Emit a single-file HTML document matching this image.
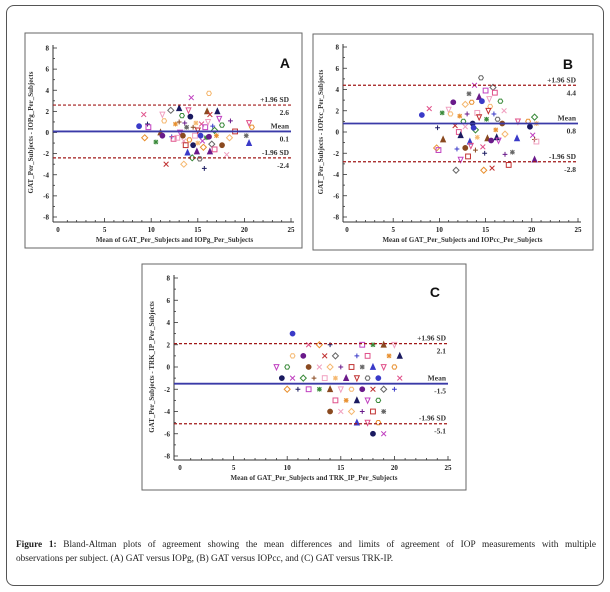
<!DOCTYPE html>
<html><head><meta charset="utf-8"><style>
body{margin:0;background:#fff;width:610px;height:592px;overflow:hidden;font-family:"Liberation Serif",serif}
#frame{position:absolute;left:6px;top:5px;width:598px;height:581px;border:1px solid #555;border-radius:8px;box-sizing:border-box}
#caption{position:absolute;left:16px;top:538px;width:580px;font-size:9.3px;line-height:14px;color:#222}
#caption .l1{display:block;text-align:justify;text-align-last:justify;white-space:nowrap}
svg{position:absolute;left:0;top:0}
</style></head><body>
<div id="frame"></div>
<svg id="fig" width="610" height="592"></svg>
<div id="caption"><span class="l1" style="white-space:normal"><b>Figure 1:</b> Bland-Altman plots of agreement showing the mean differences and limits of agreement of IOP measurements with multiple</span><span>observations per subject. (A) GAT versus IOPg, (B) GAT versus IOPcc, and (C) GAT versus TRK-IP.</span></div>
<script>
// Panel A data
const aX=[8.7,9.2,9.3,9.6,9.7,10.5,11.0,11.2,11.4,11.2,11.6,12.1,12.2,12.4,12.6,13.0,13.1,13.3,13.4,13.5,13.5,13.6,13.7,13.8,13.9,14.0,14.1,14.2,14.3,14.4,14.5,14.7,14.8,14.9,15.0,15.2,15.3,15.4,15.6,15.7,15.8,15.9,16.0,16.1,16.2,16.2,16.3,16.5,16.6,16.8,17.0,17.1,17.3,17.6,17.6,18.1,18.4,18.5,19.0,20.2,20.5,20.5,20.8,14.5,15.5,16.8,13.0,12.8,15.0,16.3];
const aY=[0.6,1.7,-0.5,0.8,0.5,-0.9,0,1.7,1.1,-0.3,-3,2.1,-0.4,-0.6,0.8,2.3,0,1.6,-0.3,-0.8,-3,0.9,-1.2,0.5,-1.9,2.1,-0.7,1.5,3.3,-2.4,0.5,-0.3,0.9,-1.8,0.2,-2.5,-0.3,0.8,-1.4,-3.4,0.5,-0.5,2.0,1.0,3.7,-0.4,1.7,-1.1,0.6,-1.6,-0.3,2.0,1.3,0.7,-1.2,-2.1,-0.5,1.1,0.1,-0.3,-1.0,0.9,0.5,-1.2,-0.8,0.2,1.0,-0.5,-1.0,-1.8];
const aStats=[0.1,2.6,-2.4];
// Panel B data
const bX=[8.1,8.9,9.7,9.8,9.9,10.3,10.4,11.0,11.2,11.5,11.7,11.8,11.9,12.1,12.2,12.3,12.3,12.6,12.8,12.8,12.8,13.0,13.1,13.2,13.3,13.4,13.5,13.6,13.8,13.9,13.9,14.1,14.1,14.3,14.3,14.5,14.6,14.7,14.8,14.9,15.0,15.1,15.2,15.4,15.5,15.6,15.7,15.8,15.9,16.0,16.1,16.2,16.4,16.6,16.8,17.0,17.1,17.1,17.5,17.9,18.4,18.5,19.6,19.8,20.1,20.3,20.3,20.5,20.5,20.3,15.3,16.3,13.7];
const bY=[1.6,2.2,-1.5,0.4,-1.7,1.8,-0.7,2.1,1.7,2.8,0.6,-3.6,-1.6,0,1.5,-0.3,-2.6,1.0,-1.5,0.5,2.6,1.7,-2.3,3.6,-0.9,-1.3,2.8,0.8,4.4,0.2,-1.7,1.8,-0.5,3.3,1.4,5.1,2.9,-1.4,-3.6,-2.0,3.9,1.2,-0.6,3.1,2.4,-0.8,-3.4,4.2,1.7,3.7,0.2,-0.5,-0.8,2.9,0.8,2.0,-0.2,-2.1,-3.1,-1.9,-0.6,1.0,1.0,0.5,-0.3,1.4,-0.7,-0.9,0.8,-2.6,2.0,1.2,0.4];
const bStats=[0.8,4.4,-2.8];
// Panel C data
const cX=[10.5,12,13,14,17,18,19,20,10.5,11.5,13.5,14.5,16.5,17.5,19.5,20.5,9,10,12,13,14,15,16,17,18,19,20,9.5,10.5,11.5,12.5,13.5,14.5,15.5,16.5,17.5,18.5,20.5,10,11,12,13,14,15,16,17,18,19,20,14.5,15.5,16.5,17.5,18.5,14,15,16,17,18,19,16.5,17.5,18.5,18,19];
const cY=[3,2,2,2,2,2,2,2,1,1,1,1,1,1,1,1,0,0,0,0,0,0,0,0,0,0,0,-1,-1,-1,-1,-1,-1,-1,-1,-1,-1,-1,-2,-2,-2,-2,-2,-2,-2,-2,-2,-2,-2,-3,-3,-3,-3,-3,-4,-4,-4,-4,-4,-4,-5,-5,-5,-6,-6];
const cStats=[-1.5,2.1,-5.1];

const xTicks=[0,5,10,15,20,25];
const yTicks=[8,6,4,2,0,-2,-4,-6,-8];
const colors=["#3a3ac8","#e0508a","#e89030","#1a1a60","#c040c0","#3a8a3a","#8a4a20","#f0a0c0","#f5b870","#6a1a8a","#c03030","#666"];
const shapes=["circle","diamond","square","tri","hex","x","plus","star","dtri"];
const NS="http://www.w3.org/2000/svg";
const svg=document.getElementById('fig');
function mk(tag,attrs,parent){const e=document.createElementNS(NS,tag);for(const k in attrs)e.setAttribute(k,attrs[k]);(parent||svg).appendChild(e);return e;}

const panels=[
 {id:'a',letter:'A',box:[25,33,277,215],x0:58,x1:291,y8:48,ym8:217,ax:53,axY:222,xs:aX,ys:aY,st:aStats,
  yt:"GAT_Per_Subjects - IOPg_Per_Subjects",xt:"Mean of GAT_Per_Subjects and IOPg_Per_Subjects",lx:290,ly:62},
 {id:'b',letter:'B',box:[313,34,280,216],x0:347,x1:578,y8:47,ym8:217,ax:343,axY:222,xs:bX,ys:bY,st:bStats,
  yt:"GAT_Per_Subjects - IOPcc_Per_Subjects",xt:"Mean of GAT_Per_Subjects and IOPcc_Per_Subjects",lx:573,ly:63},
 {id:'c',letter:'C',box:[142,264,324,226],x0:180,x1:448,y8:278,ym8:456,ax:174,axY:460,xs:cX,ys:cY,st:cStats,
  yt:"GAT_Per_Subjects - TRK_IP_Per_Subjects",xt:"Mean of GAT_Per_Subjects and TRK_IP_Per_Subjects",lx:440,ly:291}
];

function marker(g,cx,cy,i){
  const c=colors[i%colors.length], s=shapes[(i*5)%shapes.length], fill=(i%3===0)?c:'none', r=2.4;
  const at={stroke:c,'stroke-width':1,fill:fill};
  let e;
  if(s==='circle'){e=mk('circle',Object.assign({cx:cx,cy:cy,r:r},at),g);}
  else if(s==='square'){e=mk('rect',Object.assign({x:cx-r,y:cy-r,width:2*r,height:2*r},at),g);}
  else if(s==='diamond'){e=mk('polygon',Object.assign({points:`${cx},${cy-r-0.6} ${cx+r+0.6},${cy} ${cx},${cy+r+0.6} ${cx-r-0.6},${cy}`},at),g);}
  else if(s==='tri'){e=mk('polygon',Object.assign({points:`${cx},${cy-r-0.5} ${cx+r},${cy+r} ${cx-r},${cy+r}`},at),g);}
  else if(s==='dtri'){e=mk('polygon',Object.assign({points:`${cx},${cy+r+0.5} ${cx+r},${cy-r} ${cx-r},${cy-r}`},at),g);}
  else if(s==='hex'){let p=[];for(let k=0;k<6;k++){const a=Math.PI/3*k;p.push((cx+r*Math.cos(a)).toFixed(1)+','+(cy+r*Math.sin(a)).toFixed(1));}e=mk('polygon',Object.assign({points:p.join(' ')},at),g);}
  else if(s==='x'){e=mk('path',{d:`M${cx-r},${cy-r}L${cx+r},${cy+r}M${cx+r},${cy-r}L${cx-r},${cy+r}`,stroke:c,'stroke-width':1},g);}
  else if(s==='plus'){e=mk('path',{d:`M${cx-r},${cy}L${cx+r},${cy}M${cx},${cy-r}L${cx},${cy+r}`,stroke:c,'stroke-width':1},g);}
  else {e=mk('path',{d:`M${cx-r},${cy}L${cx+r},${cy}M${cx},${cy-r}L${cx},${cy+r}M${cx-2},${cy-2}L${cx+2},${cy+2}M${cx+2},${cy-2}L${cx-2},${cy+2}`,stroke:c,'stroke-width':1},g);}
  return e;
}

panels.forEach(p=>{
  const sx=v=>p.x0+(v-0)*(p.x1-p.x0)/25;
  const sy=v=>p.y8+(8-v)*(p.ym8-p.y8)/16;
  const g=mk('g',{});
  
  
  const fr=mk('rect',{x:p.box[0],y:p.box[1],width:p.box[2],height:p.box[3],fill:'none',stroke:'#666','stroke-width':1},g);
  
  
  const ya=mk('line',{x1:p.ax,y1:p.y8-3,x2:p.ax,y2:p.axY,stroke:'#333','stroke-width':1},g);
  
  
  const xa=mk('line',{x1:p.ax,y1:p.axY,x2:p.x1+3,y2:p.axY,stroke:'#333','stroke-width':1},g);
  
  
  for(let v=-8;v<=8;v++){const y=sy(v);mk('line',{x1:p.ax,y1:y,x2:p.ax+(v%2===0?4:2),y2:y,stroke:'#333','stroke-width':0.8},g);}
  for(let v=1;v<=25;v++){const x=sx(v);mk('line',{x1:x,y1:p.axY,x2:x,y2:p.axY-(v%5===0?4:2),stroke:'#333','stroke-width':0.8},g);}
  yTicks.forEach(v=>{const t=mk('text',{x:p.ax-4,y:sy(v)+2.5,'font-size':7,'font-weight':'bold','text-anchor':'end',fill:'#222'},g);t.textContent=v;
    
    });
  xTicks.forEach(v=>{const t=mk('text',{x:sx(v),y:p.axY+10,'font-size':7,'font-weight':'bold','text-anchor':'middle',fill:'#222'},g);t.textContent=v;
    
    });
  const xt=mk('text',{x:(p.x0+p.x1)/2,y:p.axY+20,'font-size':7,'font-weight':'bold','text-anchor':'middle',fill:'#333'},g);xt.textContent=p.xt;
  
  
  const yc=(p.y8+p.ym8)/2, yx=p.ax-20;
  const yt=mk('text',{x:yx,y:yc,'font-size':7,'font-weight':'bold','text-anchor':'middle',fill:'#333',transform:`rotate(-90 ${yx} ${yc})`},g);yt.textContent=p.yt;
  
  
  const pg=mk('g',{},g);
  p.xs.forEach((xv,i)=>{const m=marker(pg,sx(xv),sy(p.ys[i]),i);
    
    });
  const ml=mk('line',{x1:p.ax,y1:sy(p.st[0]),x2:sx(25),y2:sy(p.st[0]),stroke:'#3a3aa8','stroke-width':1.8},g);
  
  
  [1,2].forEach(k=>{const l=mk('line',{x1:p.ax,y1:sy(p.st[k]),x2:sx(25),y2:sy(p.st[k]),stroke:'#a01818','stroke-width':1.2,'stroke-dasharray':'3,2'},g);
    
    });
  const rx=sx(25)-2;
  const labs=[['+1.96 SD',p.st[1],-3],[p.st[1].toFixed(1),p.st[1],10],['Mean',p.st[0],-3],[p.st[0].toFixed(1),p.st[0],10],['-1.96 SD',p.st[2],-3],[p.st[2].toFixed(1),p.st[2],10]];
  labs.forEach(l=>{const t=mk('text',{x:rx,y:sy(l[1])+l[2],'font-size':7.5,'font-weight':'bold','text-anchor':'end',fill:'#333'},g);t.textContent=l[0];
    
    });
  const L=mk('text',{x:p.lx,y:p.ly+6,'font-size':14,'font-weight':'bold','font-family':'Liberation Sans, sans-serif','text-anchor':'end',fill:'#111'},g);L.textContent=p.letter;
  
  
});
</script>
</body></html>
